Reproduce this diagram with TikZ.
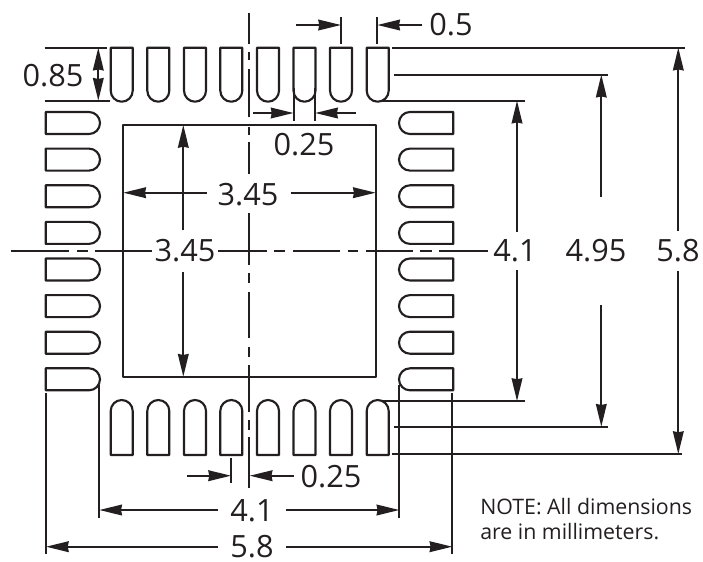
\documentclass[tikz,border=0pt]{standalone}
\usepackage{fontspec}
\setmainfont{Open Sans}
\usetikzlibrary{arrows.meta}
\definecolor{inkdark}{HTML}{231F20}
\tikzset{
  pad/.style={draw=inkdark,line width=1.6pt,line join=round},
  extline/.style={draw=inkdark,line width=1.5pt},
  centerline/.style={draw=inkdark,line width=1.5pt},
  dimline/.style={draw=inkdark,line width=1.5pt,-{Stealth[length=17pt,width=8pt,inset=0.7pt]}},
  dimlabel/.style={text=inkdark,font=\fontsize{23}{25}\selectfont,inner sep=0pt},
  notelabel/.style={text=inkdark,font=\fontsize{16}{18.75}\selectfont,inner sep=0pt,align=left,anchor=west}
}
\begin{document}
\begin{tikzpicture}[x=0.75pt,y=-0.75pt]
  \path[use as bounding box] (0,0) rectangle (703,561);
  % pads
  \foreach \x in {110.7,147.3,184,220.3,257,293.5,330,366.7} {
    \draw[pad] (\x,47.7) [rounded corners=8.25pt] -- ++(0,54) -- ++(22,0) [sharp corners] -- ++(0,-54) -- cycle;
    \draw[pad] (\x,455) [rounded corners=8.25pt] -- ++(0,-55) -- ++(22,0) [sharp corners] -- ++(0,55) -- cycle;
  }
  \foreach \y in {112,148.6,185.3,221.9,258.5,295.1,331.7,368.3} {
    \draw[pad] (45.7,\y) [sharp corners] -- ++(0,22) [rounded corners=8.25pt] -- ++(54.3,0) -- ++(0,-22) [sharp corners] -- cycle;
    \draw[pad] (453.3,\y) [sharp corners] -- ++(0,22) [rounded corners=8.25pt] -- ++(-54.3,0) -- ++(0,-22) [sharp corners] -- cycle;
  }
  \draw[pad] (123.3,125) rectangle (375.7,376.7);
  % center lines
  \foreach \a/\b in {12.7/44,52/60,69/117,127/135,142/174,213/265,273/283,292/338,347/357,365/412,420/430,437/488}
    \draw[centerline] (249.3,\a) -- (249.3,\b);
  \foreach \a/\b in {11/69.3,77/88,95/152,218/267,274/285,293/340,348/358,366/413,420/432,439/488}
    \draw[centerline] (\a,251) -- (\b,251);
  % labels
  \node[dimlabel] (pinlen) at (53,76) {0.85};
  \node[dimlabel] (pitch) at (451,25) {0.5};
  \node[dimlabel] (pinw) at (304,145) {0.25};
  \node[dimlabel] (padw) at (248,195) {3.45};
  \node[dimlabel] (padh) at (185,251) {3.45};
  \node[dimlabel] (inner) at (515,251) {4.1};
  \node[dimlabel] (center) at (596,251) {4.95};
  \node[dimlabel] (outer) at (678,251) {5.8};
  \node[dimlabel] (gap) at (331,477) {0.25};
  \node[dimlabel] (innerb) at (252,511) {4.1};
  \node[dimlabel] (outerb) at (252,547) {5.8};
  \node[notelabel] (note) at (480,519.5) {NOTE: All dimensions\\are in millimeters.};
  % 0.85
  \draw[extline] (44.7,47.7) -- (107,47.7);
  \draw[extline] (44.7,100.7) -- (110,100.7);
  \draw[dimline,{Stealth[length=17pt,width=8pt,inset=0.7pt]}-{Stealth[length=17pt,width=8pt,inset=0.7pt]}] (98.3,47.7) -- (98.3,100.7);
  % 0.5
  \draw[extline] (341,17) -- (341,44);
  \draw[extline] (377.3,17) -- (377.3,44);
  \coordinate (pitchfree) at (296,25);
  \coordinate (pitchl) at (341,25);
  \coordinate (pitchr) at (377.3,25);
  \draw[dimline] (pitchfree) -- (pitchl);
  \draw[dimline,shorten <=5pt] (pitch.west) -- (pitchr);
  % 0.25 top
  \draw[extline] (293.5,88) -- (293.5,121);
  \draw[extline] (315.2,88) -- (315.2,121);
  \coordinate (pinfreel) at (253,113);
  \coordinate (pinl) at (293.5,113);
  \coordinate (pinfreer) at (355.7,113);
  \coordinate (pinr) at (315.2,113);
  \draw[dimline] (pinfreel) -- (pinl);
  \draw[dimline] (pinfreer) -- (pinr);
  % 3.45
  \coordinate (padl) at (123.3,192.7);
  \coordinate (padr) at (375.7,192.7);
  \coordinate (padt) at (183.3,125);
  \coordinate (padb) at (183.3,376.7);
  \draw[dimline,shorten <=8pt] (padw.west |- padl) -- (padl);
  \draw[dimline,shorten <=9pt] (padw.east |- padr) -- (padr);
  \draw[dimline,shorten <=7pt] (padt |- padh.north) -- (padt);
  \draw[dimline,shorten <=7pt] (padb |- padh.south) -- (padb);
  % right side
  \draw[extline] (392,47.7) -- (685,47.7);
  \draw[extline] (394,74.7) -- (607.7,74.7);
  \draw[extline] (382,100.7) -- (525,100.7);
  \draw[extline] (382,401) -- (525,401);
  \draw[extline] (394,426.7) -- (607.7,426.7);
  \draw[extline] (392,454) -- (682,454);
  \coordinate (innert) at (517,100.7);
  \coordinate (innerd) at (517,401);
  \coordinate (centert) at (601.3,74.7);
  \coordinate (centerd) at (601.3,426.7);
  \coordinate (outert) at (678.3,47.7);
  \coordinate (outerd) at (678.3,454);
  \draw[dimline,shorten <=6pt] (innert |- inner.north) -- (innert);
  \draw[dimline,shorten <=6pt] (innerd |- inner.south) -- (innerd);
  \draw[dimline,shorten <=32pt] (centert |- center.north) -- (centert);
  \draw[dimline,shorten <=32pt] (centerd |- center.south) -- (centerd);
  \draw[dimline,shorten <=6pt] (outert |- outer.north) -- (outert);
  \draw[dimline,shorten <=6pt] (outerd |- outer.south) -- (outerd);
  % 0.25 bottom
  \draw[extline] (231,457.7) -- (231,483);
  \coordinate (gapfree) at (186.7,475.7);
  \coordinate (gapl) at (231,475.7);
  \coordinate (gapr) at (249.7,475.7);
  \draw[dimline] (gapfree) -- (gapl);
  \draw[dimline,shorten <=5pt] (gap.west |- gapr) -- (gapr);
  % bottom
  \draw[extline] (99.3,385) -- (99.3,517.7);
  \draw[extline] (399.3,385) -- (399.3,517.7);
  \draw[extline] (46,393) -- (46,554);
  \draw[extline] (452.3,393) -- (452.3,554);
  \coordinate (innerl) at (99.3,510);
  \coordinate (innerr) at (399.3,510);
  \coordinate (outerl) at (46,546.7);
  \coordinate (outerr) at (452.3,546.7);
  \draw[dimline,shorten <=9pt] (innerb.west |- innerl) -- (innerl);
  \draw[dimline,shorten <=9pt] (innerb.east |- innerr) -- (innerr);
  \draw[dimline,shorten <=9pt] (outerb.west |- outerl) -- (outerl);
  \draw[dimline,shorten <=9pt] (outerb.east |- outerr) -- (outerr);
\end{tikzpicture}
\end{document}
